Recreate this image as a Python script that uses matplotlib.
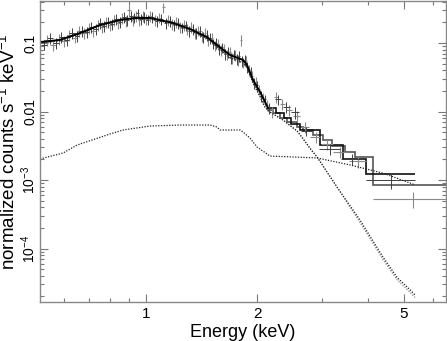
import numpy as np
import matplotlib
matplotlib.use("Agg")
import matplotlib.pyplot as plt
from matplotlib.ticker import NullFormatter

plt.rcParams['font.family'] = ['Liberation Sans', 'DejaVu Sans']
plt.rcParams['mathtext.fontset'] = 'custom'
plt.rcParams['mathtext.rm'] = 'Liberation Sans'
plt.rcParams['mathtext.it'] = 'Liberation Sans'

# --- data set A (dark crosses) ---
ea = [0.53, 0.55, 0.57, 0.59, 0.61, 0.63, 0.65, 0.67, 0.69, 0.71, 0.73, 0.75,
      0.77, 0.79, 0.81, 0.83, 0.85, 0.87, 0.89, 0.91, 0.93, 0.95, 0.97, 0.99,
      1.01, 1.04, 1.07, 1.10, 1.13, 1.16, 1.19, 1.22, 1.25, 1.28, 1.31, 1.34,
      1.37, 1.40, 1.43, 1.46, 1.49, 1.52, 1.55, 1.58, 1.61, 1.64, 1.67, 1.70,
      1.73, 1.76, 1.79, 1.82, 1.85, 1.88, 1.92, 1.96, 2.00, 2.05, 2.10, 2.16,
      2.28, 2.40, 2.53, 2.72, 3.15, 3.62, 4.60]
va = [0.095, 0.118, 0.100, 0.122, 0.112, 0.140, 0.128, 0.150, 0.146, 0.172,
      0.160, 0.195, 0.178, 0.205, 0.190, 0.225, 0.205, 0.240, 0.215, 0.245,
      0.235, 0.270, 0.225, 0.240, 0.220, 0.238, 0.212, 0.225, 0.196, 0.212,
      0.185, 0.198, 0.168, 0.180, 0.150, 0.162, 0.138, 0.150, 0.122, 0.132,
      0.118, 0.098, 0.100, 0.082, 0.086, 0.070, 0.074, 0.061, 0.068, 0.058,
      0.064, 0.054, 0.056, 0.044, 0.038, 0.026, 0.024, 0.017, 0.015, 0.0112,
      0.0150, 0.0115, 0.0098, 0.0052, 0.0028, 0.0020, 0.0010]
xa_lo = [0.01] * 60 + [0.04, 0.05, 0.06, 0.09, 0.20, 0.25, 0.65]
xa_hi = [0.01] * 60 + [0.04, 0.05, 0.06, 0.09, 0.20, 0.25, 0.76]
ya_err = [0.18] * 60 + [0.18, 0.18, 0.20, 0.16, 0.18, 0.18, 0.25]

# --- data set B (grey crosses) ---
eb = [0.54, 0.56, 0.58, 0.60, 0.62, 0.64, 0.66, 0.68, 0.70, 0.72, 0.74, 0.76,
      0.78, 0.80, 0.82, 0.84, 0.86, 0.88, 0.90, 0.92, 0.94, 0.96, 0.98, 1.00,
      1.025, 1.055, 1.085, 1.115, 1.145, 1.175, 1.205, 1.235, 1.265, 1.295,
      1.325, 1.355, 1.385, 1.415, 1.445, 1.475, 1.505, 1.535, 1.565, 1.595,
      1.625, 1.655, 1.685, 1.715, 1.745, 1.775, 1.805, 1.835, 1.865, 1.90,
      1.94, 1.98, 2.025, 2.075, 2.13, 2.19,
      2.25, 2.34, 2.44, 2.56, 2.70, 2.88, 3.10, 3.36, 3.75, 5.29]
vb = [0.110, 0.092, 0.115, 0.108, 0.130, 0.120, 0.150, 0.138, 0.165, 0.150,
      0.185, 0.170, 0.200, 0.182, 0.215, 0.195, 0.232, 0.210, 0.300, 0.218,
      0.250, 0.215, 0.245, 0.225, 0.245, 0.215, 0.235, 0.330, 0.215, 0.190,
      0.205, 0.170, 0.185, 0.158, 0.170, 0.140, 0.152, 0.128, 0.138, 0.112,
      0.120, 0.092, 0.096, 0.078, 0.083, 0.068, 0.073, 0.060, 0.066, 0.057,
      0.110, 0.052, 0.055, 0.040, 0.033, 0.027, 0.021, 0.016, 0.0125, 0.0098,
      0.0165, 0.0130, 0.0105, 0.0085, 0.0060, 0.0042, 0.0034, 0.0026, 0.0019,
      0.00053]
xb_lo = [0.01] * 60 + [0.03, 0.04, 0.05, 0.06, 0.07, 0.09, 0.12, 0.14, 0.20, 1.17]
xb_hi = [0.01] * 60 + [0.03, 0.04, 0.05, 0.06, 0.07, 0.09, 0.12, 0.14, 0.20, 1.21]
yb_err = [0.18] * 60 + [0.18, 0.18, 0.18, 0.18, 0.18, 0.18, 0.18, 0.18, 0.20, 0.27]

# --- folded model, smooth part ---
em = [0.516, 0.585, 0.663, 0.750, 0.850, 0.934, 1.025, 1.184, 1.316, 1.463,
      1.557, 1.689, 1.832, 1.878, 1.950, 2.037, 2.101, 2.141]
vm = [0.103, 0.111, 0.140, 0.183, 0.217, 0.232, 0.232, 0.196, 0.160, 0.122,
      0.0935, 0.0668, 0.0565, 0.0477, 0.0288, 0.0193, 0.0138, 0.0112]

# --- folded model, binned part (two data sets) ---
edges_a = [2.141, 2.251, 2.366, 2.471, 2.615, 2.962, 3.419, 3.947, 5.358]
step_a = [0.01125, 0.0095, 0.0080, 0.00657, 0.00537, 0.00324, 0.00203, 0.00122]
edges_b = [2.141, 2.209, 2.307, 2.411, 2.566, 2.664, 2.835, 3.018, 3.192,
           3.461, 3.685, 4.123, 6.50]
step_b = [0.0105, 0.0095, 0.0080, 0.00703, 0.00594, 0.00537, 0.00454, 0.00384,
          0.00313, 0.00256, 0.00217, 0.000845]

# --- model components ---
e_flat = [0.516, 0.596, 0.650, 0.799, 0.866, 1.025, 1.236, 1.491, 1.557, 1.587,
          1.797, 1.832, 1.913, 2.0, 2.168, 2.907, 3.572, 4.388, 5.194, 5.358]
v_flat = [0.00203, 0.00248, 0.00324, 0.00470, 0.00537, 0.00614, 0.00635,
          0.00635, 0.00594, 0.00537, 0.00537, 0.00502, 0.00410, 0.00303,
          0.00224, 0.00210, 0.00166, 0.00126, 0.000904, 0.00085]
e_steep = [0.516, 0.585, 0.663, 0.750, 0.850, 0.934, 1.025, 1.184, 1.316,
           1.463, 1.557, 1.689, 1.832, 1.878, 1.950, 2.037, 2.101, 2.168,
           2.351, 2.566, 2.664, 2.782, 2.907, 3.293, 3.802, 4.388, 4.789,
           5.194, 5.358]
v_steep = [0.101, 0.108, 0.136, 0.178, 0.211, 0.226, 0.226, 0.190, 0.154,
           0.116, 0.088, 0.061, 0.051, 0.044, 0.026, 0.0165, 0.0115, 0.0098,
           0.0075, 0.0052, 0.0040, 0.0029, 0.00217, 0.00079, 0.00026,
           7.5e-5, 3.8e-5, 2.5e-5, 2.1e-5]
v_steep_b = [v * 0.92 if e > 3.5 else v for e, v in zip(e_steep, v_steep)]

fig = plt.figure(figsize=(4.47, 3.41), dpi=100)
ax = fig.add_axes([40 / 447, 1 - 302 / 341, 406 / 447, 301 / 341])

# data crosses
va_arr = np.array(va)
vb_arr = np.array(vb)
ax.errorbar(eb, vb, xerr=[xb_lo, xb_hi], yerr=vb_arr * np.array(yb_err),
            fmt='none', ecolor='#8a8a8a', elinewidth=0.8, capsize=0)
ax.errorbar(ea, va, xerr=[xa_lo, xa_hi], yerr=va_arr * np.array(ya_err),
            fmt='none', ecolor='#404040', elinewidth=0.7, capsize=0)

# model components (dotted)
ax.plot(e_steep, v_steep_b, color='#8a8a8a', ls=(0, (1, 1.2)), lw=0.9)
ax.plot(e_steep, v_steep, color='#222222', ls=(0, (1, 1.2)), lw=0.9)
ax.plot(e_flat, v_flat, color='#222222', ls=(0, (1, 1.2)), lw=0.9)

# folded model
ax.stairs(step_b, edges_b, baseline=None, color='#555555', lw=1.2)
ax.stairs(step_a, edges_a, baseline=None, color='#111111', lw=1.2)
ax.plot(em, vm, color='black', lw=1.4)

ax.set_xscale('log')
ax.set_yscale('log')
ax.set_xlim(0.516, 6.5)
ax.set_ylim(1.66e-5, 0.41)

ax.set_xticks([1, 2, 5], ['1', '2', '5'])
ax.set_xticks([0.6, 0.7, 0.8, 0.9, 3, 4, 6], minor=True)
ax.xaxis.set_minor_formatter(NullFormatter())
ax.set_yticks([1e-4, 1e-3, 1e-2, 1e-1],
              [r'10$^{-4}$', r'10$^{-3}$', '0.01', '0.1'])
ax.yaxis.set_minor_formatter(NullFormatter())
for lab in ax.get_yticklabels():
    lab.set_rotation(90)
    lab.set_va('center')

ax.tick_params(which='both', direction='in', top=True, right=True,
               color='#777777', labelsize=11, width=0.8)
ax.tick_params(axis='y', labelsize=10, pad=1.5)
ax.tick_params(which='major', length=6)
ax.tick_params(which='minor', length=3)
for sp in ax.spines.values():
    sp.set_color('#888888')
    sp.set_linewidth(1.0)

ax.set_xlabel('Energy (keV)', fontsize=13, labelpad=2)
ax.set_ylabel(r'normalized counts s$^{-1}$ keV$^{-1}$', fontsize=13.5)
ax.yaxis.set_label_coords(-0.052, 0.5)

fig.savefig('out.png', dpi=100)
